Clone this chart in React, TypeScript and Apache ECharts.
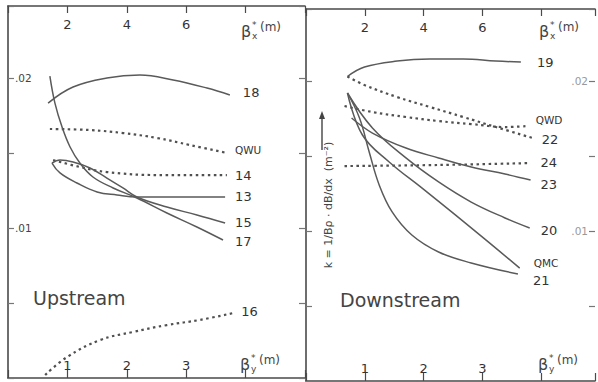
import React, { useEffect, useRef } from "react";
import * as echarts from "echarts";

// ---------- tick labels ----------
const topTickLabels: Record<number, string> = { 2: "2", 4: "4", 6: "6" };
const bottomTickLabels: Record<number, string> = { 1: "1", 2: "2", 3: "3" };
const yTickLabels: Record<string, string> = { "0.01": ".01", "0.02": ".02" };

// ---------- Upstream (x = beta_x* in m, y = k in m^-2) ----------
const up18 = [[1.35, 0.01833], [2.19, 0.0194], [3.33, 0.02], [4.44, 0.0202], [5.56, 0.01987], [6.7, 0.01933], [7.47, 0.01887]];
const upQWU = [[1.41, 0.0166], [2.76, 0.01653], [3.87, 0.01633], [5.02, 0.016], [6.13, 0.01553], [7.37, 0.015]];
const up14 = [[1.52, 0.01453], [2.42, 0.01407], [3.33, 0.01373], [5.02, 0.01353], [7.37, 0.01353]];
const up13 = [[1.48, 0.01433], [1.75, 0.01367], [2.32, 0.013], [3.0, 0.0124], [3.67, 0.0122], [4.34, 0.01207], [5.56, 0.01207], [7.31, 0.01207]];
const up15 = [[1.48, 0.01433], [1.75, 0.01453], [2.19, 0.0144], [2.76, 0.014], [3.33, 0.01333], [3.87, 0.01267], [4.34, 0.01207], [5.35, 0.0114], [6.36, 0.01087], [7.31, 0.01033]];
const up17 = [[1.41, 0.02013], [1.58, 0.01833], [1.82, 0.01673], [2.09, 0.0154], [2.42, 0.01433], [2.86, 0.0134], [3.54, 0.01267], [4.34, 0.012], [5.35, 0.011], [6.36, 0.01007], [7.24, 0.0092]];
const up16 = [[1.25, 0.0002], [1.99, 0.0014], [3.1, 0.00253], [4.21, 0.00307], [5.35, 0.00353], [6.46, 0.00387], [7.58, 0.00433]];

// ---------- Downstream ----------
const dn19 = [[1.41, 0.0203], [1.99, 0.02093], [3.1, 0.02133], [4.21, 0.02147], [5.35, 0.02147], [6.46, 0.02133], [7.31, 0.02127]];
const dnQWD = [[1.31, 0.01833], [2.26, 0.01793], [3.4, 0.0176], [4.51, 0.01733], [5.62, 0.01713], [6.77, 0.01693], [7.54, 0.017]];
const dn22 = [[1.41, 0.0203], [1.99, 0.01973], [3.1, 0.01893], [4.21, 0.01827], [5.35, 0.0176], [6.46, 0.01693], [7.71, 0.0162]];
const dn24 = [[1.31, 0.01433], [4.51, 0.0144], [7.64, 0.01453]];
const dn23 = [[1.55, 0.01753], [2.26, 0.01653], [3.4, 0.01553], [4.51, 0.01487], [5.62, 0.01427], [6.77, 0.0138], [7.64, 0.0134]];
const dn20 = [[1.41, 0.0192], [2.26, 0.01687], [3.4, 0.01487], [4.51, 0.01327], [5.62, 0.01193], [6.77, 0.01087], [7.61, 0.0102]];
const dnQMC = [[1.41, 0.0192], [1.92, 0.0164], [2.83, 0.0146], [3.94, 0.01287], [5.08, 0.01107], [6.2, 0.00927], [7.27, 0.00753]];
const dn21 = [[1.41, 0.0192], [1.82, 0.01753], [2.15, 0.01527], [2.49, 0.01307], [2.93, 0.01127], [3.6, 0.00973], [4.51, 0.0086], [5.62, 0.00787], [7.21, 0.00713]];

const upstreamCurves: [string, number[][], boolean][] = [
  ["18", up18, false],
  ["QWU", upQWU, true],
  ["14", up14, true],
  ["13", up13, false],
  ["15", up15, false],
  ["17", up17, false],
  ["16", up16, true],
];
const downstreamCurves: [string, number[][], boolean][] = [
  ["19", dn19, false],
  ["QWD", dnQWD, true],
  ["22", dn22, true],
  ["24", dn24, true],
  ["23", dn23, false],
  ["20", dn20, false],
  ["QMC", dnQMC, false],
  ["21", dn21, false],
];

// label offsets (styling)
const labelOffsets: Record<string, [number, number]> = {
  "18": [5, -2], QWU: [0, -3], "14": [0, 0], "13": [2, 0], "15": [2, -1], "17": [4, 1], "16": [0, -2],
  "19": [8, 1], QWD: [0, -6], "22": [1, 1], "24": [2, -1], "23": [2, 4], "20": [3, 2], QMC: [6, -5], "21": [7, 6],
};

const INK = "#4a4a4a";
const FONT = "DejaVu Sans";

function makeSeries(curves: [string, number[][], boolean][], xIdx: number, yIdx: number) {
  return curves.map(([name, data, dotted]) => {
    const letters = /[A-Z]/.test(name);
    return {
      type: "line",
      name,
      data,
      xAxisIndex: xIdx,
      yAxisIndex: yIdx,
      smooth: 0.4,
      symbol: "none",
      silent: true,
      lineStyle: dotted
        ? { color: "#505050", width: 2.2, type: [2.5, 3.5], cap: "butt" }
        : { color: "#5a5a5a", width: 1.5 },
      endLabel: {
        show: true,
        formatter: name,
        offset: labelOffsets[name],
        color: "#333",
        fontFamily: FONT,
        fontSize: letters ? 10.5 : 13,
      },
    };
  });
}

function xAxisTop(grid: number, max: number) {
  return {
    type: "value", gridIndex: grid, position: "top", min: 0, max, interval: 2,
    axisLine: { show: true, onZero: false, lineStyle: { color: INK, width: 1.6 } },
    axisTick: { show: true, inside: true, length: 7, lineStyle: { color: INK, width: 1.2 } },
    axisLabel: { show: true, inside: true, margin: 12, color: "#333", fontSize: 13, fontFamily: FONT,
      formatter: (v: number) => topTickLabels[v] ?? "" },
    splitLine: { show: false },
  };
}
function xAxisBottom(grid: number, max: number) {
  return {
    type: "value", gridIndex: grid, position: "bottom", min: 0, max, interval: 1,
    axisLine: { show: true, onZero: false, lineStyle: { color: INK, width: 1.6 } },
    axisTick: { show: true, inside: true, length: 8, lineStyle: { color: INK, width: 1.2 } },
    axisLabel: { show: true, inside: true, margin: 6, color: "#333", fontSize: 13, fontFamily: FONT,
      formatter: (v: number) => bottomTickLabels[v] ?? "" },
    splitLine: { show: false },
  };
}
function yAxis(grid: number, position: string, showLine: boolean, labels: boolean, labelColor: string) {
  return {
    type: "value", gridIndex: grid, position, min: 0, max: 0.0248, interval: 0.005,
    axisLine: { show: showLine, onZero: false, lineStyle: { color: INK, width: 1.6 } },
    axisTick: { show: true, inside: true, length: 6, lineStyle: { color: "#777", width: 1.2 } },
    axisLabel: { show: labels, inside: true, margin: 7, color: labelColor, fontSize: 10.5, fontFamily: FONT,
      formatter: (v: number) => yTickLabels[String(Math.round(v * 1000) / 1000)] ?? "" },
    splitLine: { show: false },
  };
}

function betaLabel(x: number, y: number, sub: string, key: string) {
  return {
    type: "group",
    id: key,
    children: [
      { type: "text", x, y, style: { text: "β", fontSize: 16, fontFamily: FONT, fill: "#444", verticalAlign: "middle" } },
      { type: "text", x: x + 11, y: y - 6, style: { text: "*", fontSize: 9, fontFamily: FONT, fill: "#444", verticalAlign: "middle" } },
      { type: "text", x: x + 11, y: y + 5, style: { text: sub, fontSize: 9, fontFamily: FONT, fill: "#444", verticalAlign: "middle" } },
      { type: "text", x: x + 19, y: y - 4, style: { text: "(m)", fontSize: 12, fontFamily: FONT, fill: "#444", verticalAlign: "middle" } },
    ],
  };
}

export default function App() {
  const ref = useRef<HTMLDivElement>(null);
  useEffect(() => {
    if (!ref.current) return;
    const chart = echarts.init(ref.current, undefined, { renderer: "svg" });
    chart.setOption({
      animation: false,
      backgroundColor: "#ffffff",
      grid: [
        { left: 8, top: 6, width: 297, height: 372, containLabel: false },
        { left: 306, top: 9, width: 292, height: 372, containLabel: false },
      ],
      xAxis: [xAxisTop(0, 10), xAxisBottom(0, 5), xAxisTop(1, 292 / 29.7), xAxisBottom(1, 292 / 59.4)],
      yAxis: [
        yAxis(0, "left", true, true, "#444"),
        yAxis(0, "right", false, false, "#444"),
        yAxis(1, "left", true, false, "#444"),
        yAxis(1, "right", false, true, "#999"),
      ],
      series: [...makeSeries(upstreamCurves, 0, 0), ...makeSeries(downstreamCurves, 2, 2)],
      graphic: [
        { type: "text", x: 33, y: 298, style: { text: "Upstream", fontSize: 19, fontFamily: FONT, fill: "#444", verticalAlign: "middle" } },
        { type: "text", x: 340, y: 300, style: { text: "Downstream", fontSize: 19, fontFamily: FONT, fill: "#444", verticalAlign: "middle" } },
        betaLabel(241, 31, "x", "bx1"),
        betaLabel(539, 31, "x", "bx2"),
        betaLabel(240, 364, "y", "by1"),
        betaLabel(538, 364, "y", "by2"),
        {
          type: "text", x: 328, y: 205, rotation: Math.PI / 2,
          style: { text: "k = 1/Bρ · dB/dx  (m⁻²)", fontSize: 11, fontFamily: FONT, fill: "#444", align: "center", verticalAlign: "middle" },
        },
        { type: "line", shape: { x1: 322, y1: 150, x2: 322, y2: 117 }, style: { stroke: "#444", lineWidth: 1.4 } },
        { type: "polygon", shape: { points: [[322, 111], [319, 119], [325, 119]] }, style: { fill: "#444" } },
      ],
    });
    return () => chart.dispose();
  }, []);
  return <div ref={ref} style={{ position: "fixed", left: 0, top: 0, width: 598, height: 382 }} />;
}
